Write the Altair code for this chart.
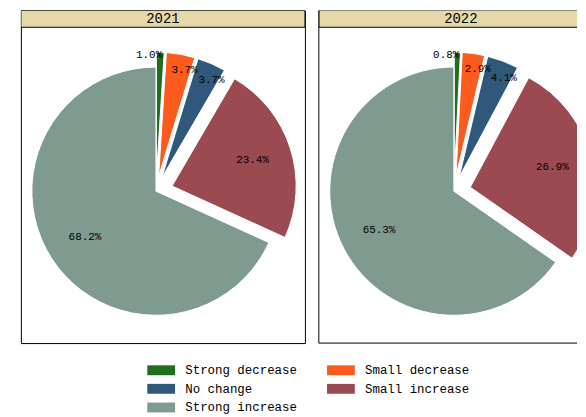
import altair as alt
import pandas as pd

years = ["2021", "2022"]
categories = ["Strong decrease", "Small decrease", "No change", "Small increase", "Strong increase"]
values_2021 = [1.0, 3.7, 3.7, 23.4, 68.2]
values_2022 = [0.8, 2.9, 4.1, 26.9, 65.3]
explode_px = [15, 15, 15, 17, 0]
colors = ["#1e701e", "#fd5a1e", "#30587c", "#9a4a50", "#7f9a8f"]

rows = []
for yr, vals in zip(years, [values_2021, values_2022]):
    for i, (c, v) in enumerate(zip(categories, vals)):
        rows.append({"year": yr, "category": c, "value": v, "order": i, "explode": explode_px[i]})
df = pd.DataFrame(rows)

W1, W2, H = 286, 260, 335
CX, CY, R = 136, 182, 125
FONT = "Liberation Mono"

legend = alt.Legend(
    title=None, orient="none", legendX=135, legendY=356, columns=2, direction="horizontal",
    symbolType="M-2.33,-0.83L2.33,-0.83L2.33,0.83L-2.33,0.83Z", symbolSize=144,
    symbolStrokeWidth=0, labelFont=FONT, labelFontSize=12.5,
    labelColor="black", labelOffset=18, columnPadding=29, rowPadding=5.8,
)


def panel(year, width, show_legend, open_right):
    base = alt.Chart(df).transform_filter(
        alt.datum.year == year
    ).transform_window(
        cum="sum(value)", sort=[alt.SortField("order")], frame=[None, 0]
    ).transform_joinaggregate(
        total="sum(value)"
    ).transform_calculate(
        t0="(datum.cum - datum.value) / datum.total * 2 * PI",
        t1="datum.cum / datum.total * 2 * PI",
    ).transform_calculate(
        mid="(datum.t0 + datum.t1) / 2",
    ).transform_calculate(
        cx=f"{CX} + datum.explode * sin(datum.mid)",
        cy=f"{CY} - datum.explode * cos(datum.mid)",
        lr="datum.value < 2 ? 122 : (datum.value < 5 ? 110 : 85)",
        la="(datum.value >= 2 && datum.value < 5) ? datum.mid + 0.06 : datum.mid",
        label="format(datum.value, '.1f') + '%'",
    ).transform_calculate(
        lx="datum.cx + datum.lr * sin(datum.la)",
        ly="datum.cy - datum.lr * cos(datum.la)",
    )

    color_kwargs = dict(scale=alt.Scale(domain=categories, range=colors), sort=categories)
    if show_legend:
        color_kwargs["legend"] = legend
    arcs = base.mark_arc(radius=R, stroke="white", strokeWidth=1, clip=True).encode(
        theta=alt.Theta("t0:Q", scale=None, stack=False),
        theta2="t1:Q",
        x=alt.X("cx:Q", scale=None, axis=None),
        y=alt.Y("cy:Q", scale=None, axis=None),
        color=alt.Color("category:N", **color_kwargs),
    )

    labels_main = base.transform_filter("datum.value >= 2").mark_text(
        font=FONT, fontSize=11, color="black", align="center", baseline="middle", clip=True
    ).encode(
        x=alt.X("lx:Q", scale=None, axis=None),
        y=alt.Y("ly:Q", scale=None, axis=None),
        text="label:N",
    )

    labels_small = base.transform_filter("datum.value < 2").mark_text(
        font=FONT, fontSize=11, color="black", align="right", baseline="middle", dx=2
    ).encode(
        x=alt.X("lx:Q", scale=None, axis=None),
        y=alt.Y("ly:Q", scale=None, axis=None),
        text="label:N",
    )

    first = base.transform_filter("datum.order == 0")
    strip = first.mark_rect(
        fill="#e6d9a8", stroke="black", strokeWidth=1, clip=True
    ).encode(
        x=alt.value(0), x2=alt.value(width + 4 if open_right else width),
        y=alt.value(0), y2=alt.value(17)
    )

    strip_text = first.mark_text(
        font=FONT, fontSize=14, color="black", align="center", baseline="middle"
    ).encode(
        x=alt.value(CX + 7), y=alt.value(9), text="year:N"
    )

    layers = [arcs, labels_main, labels_small, strip, strip_text]
    props = dict(width=width, height=H)
    if open_right:
        left_rule = first.mark_rule(color="black", strokeWidth=1).encode(
            x=alt.value(0), y=alt.value(0), y2=alt.value(H)
        )
        bottom_rule = first.mark_rule(color="black", strokeWidth=1).encode(
            x=alt.value(0), x2=alt.value(width), y=alt.value(H)
        )
        layers += [left_rule, bottom_rule]
        props["view"] = alt.ViewBackground(stroke="transparent")
    return alt.layer(*layers).properties(**props)


chart = alt.hconcat(
    panel("2021", W1, True, False), panel("2022", W2, False, True), spacing=12
).properties(
    padding={"left": 12, "top": 0, "right": 0, "bottom": 0},
    background="white",
).configure_view(
    stroke="black", strokeWidth=1
)

chart.save("out.html", embed_options={"renderer": "svg", "actions": False})
